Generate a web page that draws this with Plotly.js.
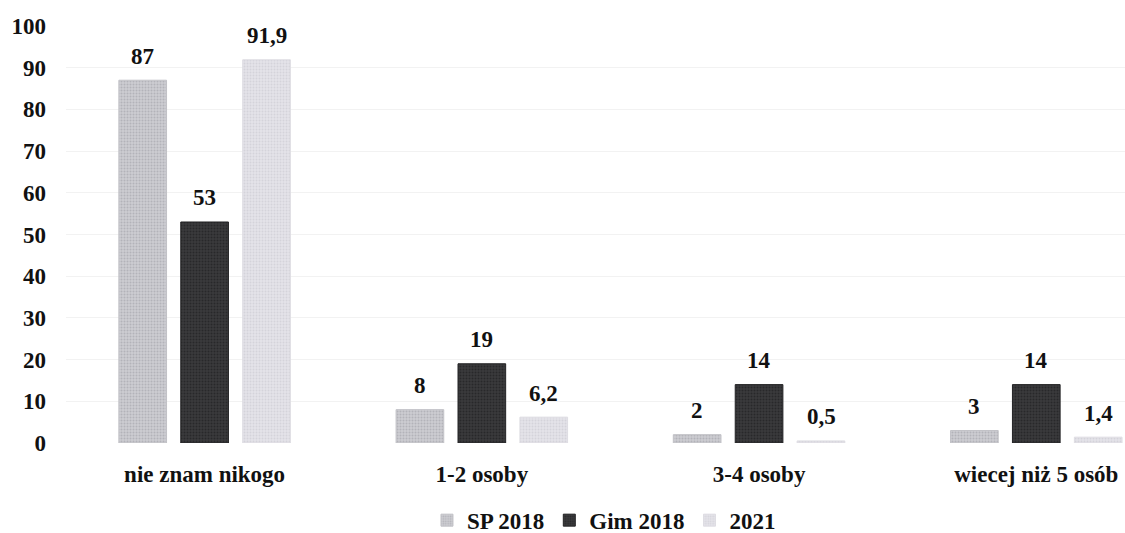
<!DOCTYPE html>
<html>
<head>
<meta charset="utf-8">
<script src="https://cdn.plot.ly/plotly-3.0.1.min.js"></script>
<style>html,body{margin:0;padding:0;background:#fff;}#chart{width:1125px;height:533px;}</style>
</head>
<body>
<div id="chart"></div>
<script>
const categories = ["nie znam nikogo", "1-2 osoby", "3-4 osoby", "wiecej niż 5 osób"];
const seriesNames = ["SP 2018", "Gim 2018", "2021"];
const sp2018 = [87, 8, 2, 3];
const gim2018 = [53, 19, 14, 14];
const y2021 = [91.9, 6.2, 0.5, 1.4];
const yTicks = [0, 10, 20, 30, 40, 50, 60, 70, 80, 90, 100];

const fmt = v => String(v).replace('.', ',');
const font = {family: "Liberation Serif", size: 23, color: "#111"};
const b = s => '<b>' + s + '</b>';

function bar(name, vals, color, fg, line) {
  return {
    type: 'bar', name: b(name), x: categories.map(b), y: vals,
    hoverinfo: 'skip',
    marker: {color: color, line: {color: line, width: 1},
      pattern: {shape: '.', fgcolor: fg, bgcolor: color, size: 3, solidity: 0.35}}
  };
}

const allSeries = [sp2018, gim2018, y2021];
const data = [
  bar(seriesNames[0], sp2018, '#cdcdd2', '#b3b3b9', '#c2c2c7'),
  bar(seriesNames[1], gim2018, '#3a3a3c', '#28282a', '#232325'),
  bar(seriesNames[2], y2021, '#e5e4ea', '#d4d3da', '#dedde3')
];

const groupOffsetPx = 62;
const annotations = [];
allSeries.forEach((vals, s) => {
  vals.forEach((v, i) => {
    annotations.push({
      x: b(categories[i]), y: v, xref: 'x', yref: 'y', text: b(fmt(v)),
      showarrow: false, xshift: (s - 1) * groupOffsetPx, yshift: 24,
      xanchor: 'center', yanchor: 'middle', font: font
    });
  });
});

const layout = {
  width: 1125, height: 533,
  margin: {l: 66, r: 0, t: 26, b: 90, autoexpand: false},
  paper_bgcolor: '#fff', plot_bgcolor: '#fff',
  barmode: 'group', bargap: 0.33, bargroupgap: 0.23,
  font: font,
  showlegend: true,
  legend: {orientation: 'h', x: 0.508, xanchor: 'center', yref: 'container', y: 0.024, yanchor: 'middle',
    font: font, itemwidth: 30, traceorder: 'normal'},
  annotations: annotations,
  xaxis: {range: [-0.5, 3.32], tickfont: font, showgrid: false, zeroline: false,
    showline: false, ticks: '', ticklabelstandoff: 15, automargin: false},
  yaxis: {range: [0, 100], tickvals: yTicks, ticktext: yTicks.map(v => b(v)), tickfont: font, showgrid: true,
    gridcolor: '#f2f2f2', gridwidth: 1, zeroline: false, showline: false,
    ticks: '', ticklabelstandoff: 19, automargin: false}
};

Plotly.newPlot('chart', data, layout, {displayModeBar: false, staticPlot: true});
</script>
</body>
</html>
